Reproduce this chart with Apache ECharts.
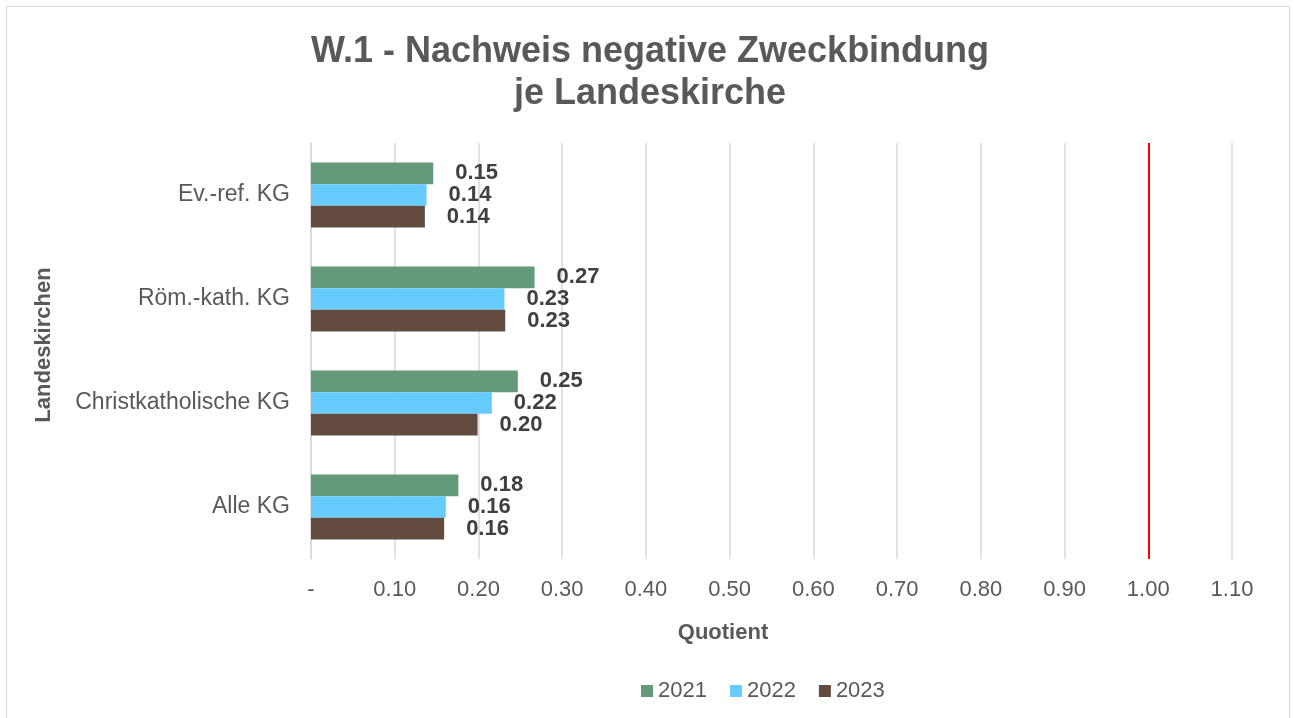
<!DOCTYPE html>
<html>
<head>
<meta charset="utf-8">
<script src="https://cdn.jsdelivr.net/npm/echarts@6/dist/echarts.min.js"></script>
<style>
  html, body { margin: 0; padding: 0; background: #fff; }
  #chart { width: 1294px; height: 718px; }
</style>
</head>
<body>
<div id="chart"></div>
<script>
const categories = ['Ev.-ref. KG', 'Röm.-kath. KG', 'Christkatholische KG', 'Alle KG']
const years = ['2021', '2022', '2023']
const values2021 = [0.146, 0.267, 0.247, 0.176]
const values2022 = [0.138, 0.231, 0.216, 0.161]
const values2023 = [0.136, 0.232, 0.199, 0.159]
const limitValue = 1.0

const COLORS = ['#639A79', '#66CCFF', '#634B40']
const FONT = '"Liberation Sans", Arial, sans-serif'

const chart = echarts.init(document.getElementById('chart'))

const makeSeries = (name, data, color) => ({
  name: name,
  type: 'bar',
  data: data,
  barGap: '0%',
  barCategoryGap: '37.5%',
  itemStyle: { color: color },
  label: {
    show: true,
    position: 'right',
    distance: 22,
    formatter: p => p.value.toFixed(2),
    color: '#404040',
    fontFamily: FONT,
    fontSize: 22,
    fontWeight: 'bold'
  }
})

const series = [
  makeSeries(years[0], values2021, COLORS[0]),
  makeSeries(years[1], values2022, COLORS[1]),
  makeSeries(years[2], values2023, COLORS[2])
]

// red reference line at quotient 1.00
series[0].markLine = {
  silent: true,
  symbol: 'none',
  label: { show: false },
  lineStyle: { color: '#FF0000', width: 2, type: 'solid' },
  data: [{ xAxis: limitValue }]
}

chart.setOption({
  animation: false,
  textStyle: { fontFamily: FONT },
  graphic: [{
    type: 'rect',
    shape: { x: 6.5, y: 6.5, width: 1283, height: 730 },
    style: { fill: 'none', stroke: '#D9D9D9', lineWidth: 1 },
    silent: true
  }],
  title: [
    {
      text: 'W.1 - Nachweis negative Zweckbindung\nje Landeskirche',
      left: 650,
      top: 31,
      padding: 0,
      textAlign: 'center',
      textStyle: {
        color: '#595959',
        fontFamily: FONT,
        fontSize: 36,
        fontWeight: 'bold',
        lineHeight: 42
      }
    },
    {
      text: 'Quotient',
      left: 723,
      top: 622,
      padding: 0,
      textAlign: 'center',
      textStyle: { color: '#595959', fontFamily: FONT, fontSize: 22, fontWeight: 'bold' }
    }
  ],
  legend: {
    data: years,
    left: 636,
    top: 675,
    itemWidth: 12,
    itemHeight: 12,
    itemGap: 23,
    icon: 'rect',
    textStyle: { color: '#595959', fontFamily: FONT, fontSize: 22 }
  },
  grid: {
    left: 311,
    right: 62,
    top: 143,
    bottom: 159,
    containLabel: false
  },
  xAxis: {
    type: 'value',
    min: 0,
    max: 1.1,
    interval: 0.1,
    axisLine: { show: false },
    axisTick: { show: false },
    axisLabel: {
      color: '#595959',
      fontFamily: FONT,
      fontSize: 22,
      margin: 20,
      formatter: v => (Math.abs(v) < 1e-9 ? '-' : v.toFixed(2))
    },
    splitLine: { show: true, lineStyle: { color: '#D9D9D9', width: 1.5 } }
  },
  yAxis: {
    type: 'category',
    data: categories,
    inverse: true,
    name: 'Landeskirchen',
    nameLocation: 'middle',
    nameGap: 256,
    nameTextStyle: {
      color: '#595959', fontFamily: FONT, fontSize: 22, fontWeight: 'bold',
      padding: [0, 0, 0, 12]
    },
    axisLine: { show: true, lineStyle: { color: '#D9D9D9', width: 1.5 } },
    axisTick: { show: false },
    axisLabel: { color: '#595959', fontFamily: FONT, fontSize: 23, margin: 21 }
  },
  series: series
})

window.addEventListener('resize', () => chart.resize())
</script>
</body>
</html>
